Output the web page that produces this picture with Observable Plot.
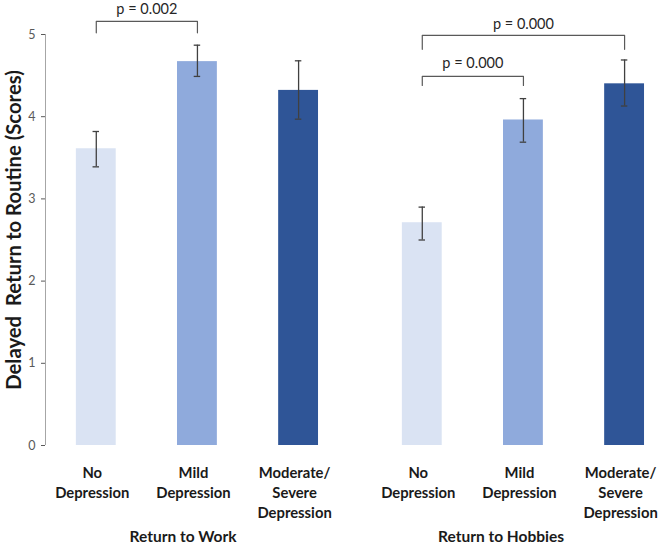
<!DOCTYPE html>
<html>
<head>
<meta charset="utf-8">
<script src="https://cdn.jsdelivr.net/npm/d3@7"></script>
<script src="https://cdn.jsdelivr.net/npm/@observablehq/plot@0.6"></script>
<style>
  html, body { margin: 0; padding: 0; background: #fff; }
  svg { display: block; }
</style>
</head>
<body>
<div id="chart"></div>
<script>
const groups = ["Return to Work", "Return to Hobbies"];
const levels = ["No Depression", "Mild Depression", "Moderate/Severe Depression"];
const tickLabels = ["No\nDepression", "Mild\nDepression", "Moderate/\nSevere\nDepression"];
const barColors = ["#DAE3F3", "#8FAADC", "#2F5597"];
const yTicks = [0, 1, 2, 3, 4, 5];
const yLabel = "Delayed  Return to Routine (Scores)";

const workMean = [3.61, 4.67, 4.32];
const workLow = [3.39, 4.49, 3.97];
const workHigh = [3.82, 4.87, 4.68];
const hobbyMean = [2.71, 3.96, 4.40];
const hobbyLow = [2.50, 3.69, 4.13];
const hobbyHigh = [2.90, 4.22, 4.69];

const pLabels = ["p = 0.002", "p = 0.000", "p = 0.000"];
const bracketGroup = ["Return to Work", "Return to Hobbies", "Return to Hobbies"];
const bracketFrom = ["No Depression", "No Depression", "No Depression"];
const bracketTo = ["Mild Depression", "Mild Depression", "Moderate/Severe Depression"];
const bracketTop = [5.16, 4.49, 4.99];
const bracketFoot = [5.02, 4.38, 4.82];
const pLabelY = [5.30, 4.65, 5.12];

const means = [workMean, hobbyMean], lows = [workLow, hobbyLow], highs = [workHigh, hobbyHigh];
const rows = [];
groups.forEach((g, gi) => levels.forEach((l, li) => rows.push({
  group: g, level: l, i: li, mean: means[gi][li], lo: lows[gi][li], hi: highs[gi][li]
})));

const brackets = pLabels.map((label, k) => ({
  k, label, group: bracketGroup[k],
  f: levels.indexOf(bracketFrom[k]), t: levels.indexOf(bracketTo[k]),
  top: bracketTop[k], foot: bracketFoot[k], ty: pLabelY[k]
}));
const bracketPts = brackets.flatMap(b => [
  {k: b.k, group: b.group, x: b.f, y: b.foot},
  {k: b.k, group: b.group, x: b.f, y: b.top},
  {k: b.k, group: b.group, x: b.t, y: b.top},
  {k: b.k, group: b.group, x: b.t, y: b.foot}
]);

const xDomain = [-0.502, 2.355];
const half = 0.197, cap = 0.032;

const chart = Plot.plot({
  width: 661, height: 544,
  marginLeft: 44, marginRight: 0, marginTop: 34, marginBottom: 99,
  style: {fontFamily: "Lato, 'Open Sans', sans-serif", background: "#fff", color: "#1a1a1a"},
  fx: {domain: groups, paddingInner: 0.113, paddingOuter: 0, axis: null, label: null},
  x: {domain: xDomain, label: null},
  y: {domain: [0, 5], label: null},
  color: {domain: levels, range: barColors},
  marks: [
    Plot.rect(rows, {fx: "group", x1: d => d.i - half, x2: d => d.i + half, y1: 0, y2: "mean", fill: "level"}),
    Plot.ruleX(rows, {fx: "group", x: "i", y1: "lo", y2: "hi", stroke: "#404040", strokeWidth: 1.3}),
    Plot.ruleY(rows, {fx: "group", y: "hi", x1: d => d.i - cap, x2: d => d.i + cap, stroke: "#404040", strokeWidth: 1.3}),
    Plot.ruleY(rows, {fx: "group", y: "lo", x1: d => d.i - cap, x2: d => d.i + cap, stroke: "#404040", strokeWidth: 1.3}),
    Plot.line(bracketPts, {fx: "group", x: "x", y: "y", z: "k", stroke: "#595959", strokeWidth: 1.2}),
    Plot.text(brackets, {fx: "group", x: d => (d.f + d.t) / 2, y: "ty", text: "label", fontSize: 14.5, fill: "#262626"}),
    Plot.axisY({ticks: yTicks, tickSize: 4, tickPadding: 6, tickFormat: d => String(d), color: "#595959", fontSize: 12.5, label: null}),
    Plot.ruleX([groups[0]], {fx: d => d, x: () => xDomain[0], y1: () => yTicks[0], y2: () => yTicks[yTicks.length - 1], stroke: "#a6a6a6", strokeWidth: 1}),
    Plot.axisX({ticks: [0, 1, 2], tickSize: 0, tickPadding: 19, dx: -4, tickFormat: i => tickLabels[i], fontSize: 14.8, fontWeight: "bold", lineHeight: 1.33, fill: "#1a1a1a", label: null}),
    Plot.text([groups[0]], {fx: d => d, frameAnchor: "bottom", dy: 96, dx: -7, text: d => d, fontSize: 15.5, fontWeight: "bold", fill: "#1a1a1a"}),
    Plot.text([groups[1]], {fx: d => d, frameAnchor: "bottom", dy: 96, dx: -15, text: d => d, fontSize: 15.5, fontWeight: "bold", fill: "#1a1a1a"}),
    Plot.text([groups[0]], {fx: d => d, frameAnchor: "left", textAnchor: "middle", dx: -31, dy: -10, rotate: -90, text: () => yLabel, fontSize: 20.3, fontWeight: "bold", fill: "#1a1a1a"})
  ]
});
document.getElementById("chart").appendChild(chart);
</script>
</body>
</html>
